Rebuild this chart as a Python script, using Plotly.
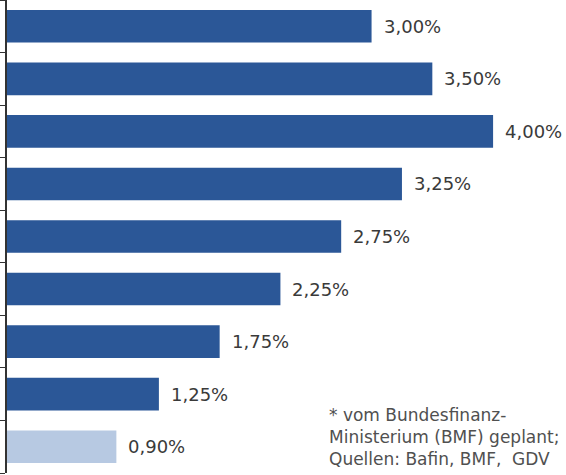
import plotly.graph_objects as go

# values of the bars, top to bottom (the last one is the planned rate)
rates = [3.00, 3.50, 4.00, 3.25, 2.75, 2.25, 1.75, 1.25, 0.90]
rate_labels = ["3,00%", "3,50%", "4,00%", "3,25%", "2,75%", "2,25%", "1,75%", "1,25%", "0,90%"]
planned = [False, False, False, False, False, False, False, False, True]
note_lines = ["* vom Bundesfinanz-", "Ministerium (BMF) geplant;", "Quellen: Bafin, BMF,  GDV"]

positions = list(range(len(rates)))
colors = ["#B7C9E2" if p else "#2B5797" for p in planned]

fig = go.Figure(
    go.Bar(
        x=rates,
        y=positions,
        orientation="h",
        width=0.62,
        marker_color=colors,
        marker_line_width=0,
        hoverinfo="skip",
    )
)

# value labels to the right of the bars
for pos, val, lab in zip(positions, rates, rate_labels):
    fig.add_annotation(
        x=val, y=pos,
        xref="x", yref="y",
        text=lab,
        showarrow=False,
        xanchor="left", yanchor="middle",
        xshift=10,
        font=dict(family="DejaVu Sans", size=18, color="#3a3a3a"),
    )

fig.add_annotation(
    x=0.572, y=0.076,
    xref="paper", yref="paper",
    text="<br>".join(note_lines),
    showarrow=False,
    align="left",
    xanchor="left", yanchor="middle",
    font=dict(family="DejaVu Sans", size=17, color="#505050"),
)

fig.update_layout(
    width=566,
    height=475,
    paper_bgcolor="white",
    plot_bgcolor="white",
    showlegend=False,
    margin=dict(l=7, r=0, t=0, b=2, autoexpand=False),
    xaxis=dict(
        range=[0, 4.6],
        showgrid=False,
        zeroline=False,
        showticklabels=False,
        showline=False,
        ticks="",
        automargin=False,
    ),
    yaxis=dict(
        range=[len(rates) - 0.5, -0.5],
        showgrid=False,
        zeroline=False,
        showticklabels=False,
        showline=True,
        linecolor="#333333",
        linewidth=1.5,
        ticks="outside",
        ticklen=7,
        tickcolor="#333333",
        tickvals=[p - 0.5 for p in positions] + [len(rates) - 0.5],
        automargin=False,
    ),
)

# the page body has a default 8px margin, drop it so the figure sits at 0,0
fig.write_html(
    "out.html",
    config={"displayModeBar": False},
    post_script="document.body.style.margin='0';",
)
